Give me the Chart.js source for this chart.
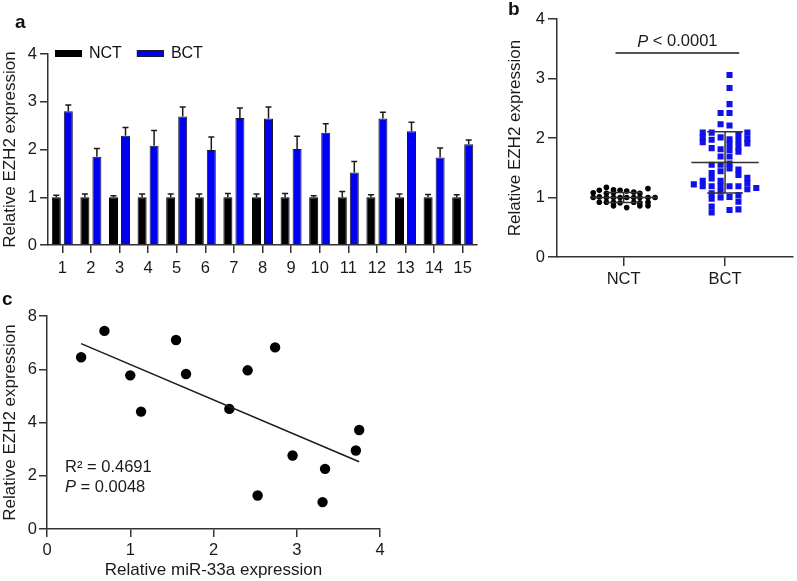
<!DOCTYPE html>
<html><head><meta charset="utf-8">
<script src="https://cdn.jsdelivr.net/npm/chart.js@4.4.1/dist/chart.umd.min.js"></script>
<style>
html,body{margin:0;padding:0;background:#fff;}
#wrap{position:relative;width:797px;height:581px;overflow:hidden;font-family:'Liberation Sans',Arial,sans-serif;}
canvas{position:absolute;}
.lbl{position:absolute;font-weight:bold;font-size:19px;line-height:19px;color:#111;}
</style></head><body>
<div id="wrap">
<canvas id="ca" width="480" height="285" style="left:0;top:0"></canvas>
<canvas id="cb" width="317" height="300" style="left:480px;top:0"></canvas>
<canvas id="cc" width="400" height="296" style="left:0;top:285px"></canvas>
<div class="lbl" style="left:15px;top:12px">a</div>
<div class="lbl" style="left:508px;top:-1px">b</div>
<div class="lbl" style="left:2px;top:289px">c</div>
</div>
<script>
// ---------- Panel a data ----------
const sampleLabels = ['1','2','3','4','5','6','7','8','9','10','11','12','13','14','15'];
const nctMeans = [1,1,1,1,1,1,1,1,1,1,1,1,1,1,1];
const nctErr   = [0.04,0.07,0.03,0.07,0.07,0.07,0.08,0.07,0.08,0.03,0.12,0.05,0.07,0.06,0.05];
const bctMeans = [2.80,1.85,2.29,2.08,2.69,1.99,2.66,2.65,2.01,2.35,1.52,2.65,2.38,1.83,2.11];
const bctErr   = [0.13,0.17,0.17,0.32,0.20,0.27,0.21,0.24,0.27,0.19,0.23,0.13,0.19,0.20,0.09];

// ---------- Panel b data ----------
const groupLabels = ['NCT','BCT'];
const nctValues = [1.17,1.15, 1.12,1.13,1.12,1.11, 1.08,1.07,1.08,1.09,1.07,
  1.00,1.01,1.00,1.00,1.00,1.00,1.00,1.00,1.00,1.00,
  0.92,0.92,0.92,0.91,0.92,0.91,0.92, 0.86,0.83,0.86,0.86];
const nctJitter = [-0.17,0.24, -0.24,-0.10,-0.035,0.03, -0.30,-0.17,-0.10,0.10,0.16,
  -0.30,-0.24,-0.17,-0.10,-0.035,0.03,0.10,0.16,0.24,0.31,
  -0.24,-0.17,-0.10,-0.035,0.10,0.16,0.24, -0.10,0.03,0.16,0.24];
const bctValues = [
  3.06,2.84,2.57,2.42,2.21,1.98,1.90,1.80,1.69,1.57,1.49,1.19,1.01,0.79,
  2.42,2.23,2.01,1.81,1.69,1.55,1.44,1.28,1.19,1.10,1.00,
  2.09,1.97,1.83,1.55,1.41,1.32,1.19,1.07,0.98,0.85,0.75,
  2.09,2.01,1.93,1.28,1.19,
  2.05,1.95,1.85,1.77,1.47,1.38,1.19,1.04,0.93,0.80,
  2.09,1.99,1.91,1.33,1.24,1.14,
  1.22, 1.16];
const bctColumn = [
  0.5,0.5,0.5,0.5,0.5,0.5,0.5,0.5,0.5,0.5,0.5,0.5,0.5,0.5,
  -0.5,-0.5,-0.5,-0.5,-0.5,-0.5,-0.5,-0.5,-0.5,-0.5,-0.5,
  -1.5,-1.5,-1.5,-1.5,-1.5,-1.5,-1.5,-1.5,-1.5,-1.5,-1.5,
  -2.5,-2.5,-2.5,-2.5,-2.5,
  1.5,1.5,1.5,1.5,1.5,1.5,1.5,1.5,1.5,1.5,
  2.5,2.5,2.5,2.5,2.5,2.5,
  -3.5, 3.5];
const nctSummary = [1.00, 0.085];   // mean, SD
const bctSummary = [1.59, 0.515];   // mean, SD
const pLabelB = ['P', ' < 0.0001'];

// ---------- Panel c data ----------
const mirValues = [0.41,0.69,1.00,1.13,1.55,1.67,2.19,2.41,2.53,2.74,2.95,3.31,3.34,3.71,3.75];
const ezhValues = [6.45,7.44,5.77,4.41,7.10,5.82,4.51,5.96,1.26,6.82,2.76,1.01,2.26,2.95,3.72];
const statLinesC = [['R\u00B2', ' = 0.4691', false], ['P', ' = 0.0048', true]];

// ---------- common ----------
const FONT = "'Liberation Sans', Arial, sans-serif";
Chart.defaults.font.family = FONT;
Chart.defaults.font.size = 16.5;
Chart.defaults.color = '#1a1a1a';
const AX = '#333';
function gridOpts(tl){ return {display:true, drawOnChartArea:false, drawTicks:true, tickLength:tl, color:AX, lineWidth:1.5}; }
const borderOpts = {display:true, color:AX, width:1.5};
const titleFont = {size:17, family:FONT};

function drawMixed(ctx, parts, x, y, size, align){
  ctx.font = 'italic ' + size + 'px ' + FONT;
  const w1 = ctx.measureText(parts[0]).width;
  ctx.font = size + 'px ' + FONT;
  const w2 = ctx.measureText(parts[1]).width;
  let x0 = align === 'center' ? x - (w1 + w2)/2 : x;
  ctx.textAlign = 'left'; ctx.textBaseline = 'middle';
  ctx.font = 'italic ' + size + 'px ' + FONT;
  ctx.fillText(parts[0], x0, y);
  ctx.font = size + 'px ' + FONT;
  ctx.fillText(parts[1], x0 + w1, y);
}

// ---------- Panel a ----------
const errorBars = {
  id:'errorBars',
  afterDatasetsDraw(chart, args, opts){
    const ctx = chart.ctx, ys = chart.scales.y;
    ctx.save();
    ctx.strokeStyle = '#1a1a1a'; ctx.lineWidth = 1.5;
    opts.errors.forEach((errs, di) => {
      const meta = chart.getDatasetMeta(di);
      const vals = chart.data.datasets[di].data;
      meta.data.forEach((bar, i) => {
        const top = ys.getPixelForValue(vals[i] + errs[i]);
        ctx.beginPath();
        ctx.moveTo(bar.x, bar.y); ctx.lineTo(bar.x, top);
        ctx.moveTo(bar.x - 3, top); ctx.lineTo(bar.x + 3, top);
        ctx.stroke();
      });
    });
    ctx.restore();
  }
};
// inline horizontal legend placed at the top of the plot area
const boxLegend = {
  id:'boxLegend',
  afterDraw(chart, args, opts){
    const {ctx, chartArea} = chart;
    ctx.save();
    let x = chartArea.left + opts.dx;
    const yc = chartArea.top + opts.dy;
    ctx.font = opts.size + 'px ' + FONT;
    ctx.textAlign = 'left'; ctx.textBaseline = 'middle';
    chart.data.datasets.forEach(ds => {
      ctx.fillStyle = ds.backgroundColor;
      ctx.fillRect(x, yc - opts.boxH/2, opts.boxW, opts.boxH);
      ctx.strokeStyle = ds.borderColor; ctx.lineWidth = 1;
      ctx.strokeRect(x + 0.5, yc - opts.boxH/2 + 0.5, opts.boxW - 1, opts.boxH - 1);
      x += opts.boxW + opts.textGap;
      ctx.fillStyle = '#111';
      ctx.fillText(ds.label, x, yc);
      x += ctx.measureText(ds.label).width + opts.itemGap;
    });
    ctx.restore();
  }
};

new Chart(document.getElementById('ca'), {
  type:'bar',
  data:{
    labels: sampleLabels,
    datasets:[
      {label:'NCT', data:nctMeans, backgroundColor:'#000', borderColor:'#000', borderWidth:1},
      {label:'BCT', data:bctMeans, backgroundColor:'#0000f2', borderColor:'#1a1a2a', borderWidth:1}
    ]
  },
  options:{
    responsive:false, animation:false, devicePixelRatio:1,
    layout:{padding:{top:54, right:3, left:0, bottom:0}},
    datasets:{bar:{categoryPercentage:0.84, barPercentage:0.75}},
    plugins:{
      legend:{display:false},
      tooltip:{enabled:false},
      errorBars:{errors:[nctErr, bctErr]},
      boxLegend:{dx:7, dy:-0.5, boxW:27, boxH:7, textGap:7, itemGap:15, size:16}
    },
    scales:{
      x:{type:'category', grid:Object.assign(gridOpts(8), {offset:false}), border:borderOpts,
        ticks:{padding:6, maxRotation:0, autoSkip:false, font:{size:16.5}},
        afterFit(s){ s.height = 40; }},
      y:{min:0, max:4, grid:gridOpts(8), border:borderOpts,
        ticks:{stepSize:1, padding:3, font:{size:16.5}},
        title:{display:true, text:'Relative EZH2 expression', font:titleFont, padding:0},
        afterFit(s){ s.width = 48; }}
    }
  },
  plugins:[errorBars, boxLegend]
});

// ---------- Panel b ----------
const summaryPlugin = {
  id:'summary',
  afterDatasetsDraw(chart, args, opts){
    const {ctx, scales:{x, y}} = chart;
    ctx.save();
    ctx.strokeStyle = AX; ctx.lineWidth = 1.5;
    opts.groups.forEach(g => {
      const cx = g[0], mean = g[1][0], sd = g[1][1];
      const xc = x.getPixelForValue(cx);
      const xm0 = x.getPixelForValue(cx - opts.meanHalf), xm1 = x.getPixelForValue(cx + opts.meanHalf);
      const xc0 = x.getPixelForValue(cx - opts.capHalf), xc1 = x.getPixelForValue(cx + opts.capHalf);
      const yM = y.getPixelForValue(mean), yT = y.getPixelForValue(mean + sd), yB = y.getPixelForValue(mean - sd);
      ctx.beginPath();
      ctx.moveTo(xm0, yM); ctx.lineTo(xm1, yM);
      ctx.moveTo(xc, yT); ctx.lineTo(xc, yB);
      ctx.moveTo(xc0, yT); ctx.lineTo(xc1, yT);
      ctx.moveTo(xc0, yB); ctx.lineTo(xc1, yB);
      ctx.stroke();
    });
    const s = opts.sig;
    const ys = y.getPixelForValue(s.y);
    ctx.strokeStyle = '#1a1a1a';
    ctx.beginPath();
    ctx.moveTo(x.getPixelForValue(s.x0), ys); ctx.lineTo(x.getPixelForValue(s.x1), ys);
    ctx.stroke();
    ctx.fillStyle = '#1a1a1a';
    drawMixed(ctx, pLabelB, (x.getPixelForValue(s.x0) + x.getPixelForValue(s.x1))/2, ys - 11, 16.5, 'center');
    ctx.restore();
  }
};

new Chart(document.getElementById('cb'), {
  type:'scatter',
  data:{
    datasets:[
      {label:'NCT', data:nctValues.map((v,i)=>({x:1 + nctJitter[i], y:v})),
        pointStyle:'circle', pointRadius:2.8, backgroundColor:'#000', borderColor:'#000', borderWidth:0},
      {label:'BCT', data:bctValues.map((v,i)=>({x:2 + bctColumn[i]*0.088, y:v})),
        pointStyle:'rect', pointRadius:4.3, backgroundColor:'#1010e8', borderColor:'#1010e8', borderWidth:0}
    ]
  },
  options:{
    responsive:false, animation:false, devicePixelRatio:1,
    layout:{padding:{top:19, right:2, left:25, bottom:0}},
    plugins:{
      legend:{display:false}, tooltip:{enabled:false},
      summary:{groups:[[1, nctSummary],[2, bctSummary]], meanHalf:0.332, capHalf:0.176,
        sig:{x0:0.92, x1:2.14, y:3.43}}
    },
    scales:{
      x:{type:'linear', min:0.343, max:2.667, grid:gridOpts(9), border:borderOpts,
        afterBuildTicks(s){ s.ticks = [{value:1},{value:2}]; },
        ticks:{padding:4, font:{size:16.5}, callback:(v)=> groupLabels[Math.round(v)-1] || ''},
        afterFit(s){ s.height = 43; }},
      y:{min:0, max:4, grid:gridOpts(9), border:borderOpts,
        ticks:{stepSize:1, padding:3, font:{size:16.5}},
        title:{display:true, text:'Relative EZH2 expression', font:titleFont, padding:0},
        afterFit(s){ s.width = 52; }}
    }
  },
  plugins:[summaryPlugin]
});

// ---------- Panel c ----------
const n = mirValues.length;
const mx = mirValues.reduce((a,b)=>a+b,0)/n, my = ezhValues.reduce((a,b)=>a+b,0)/n;
let sxy = 0, sxx = 0;
for (let i=0;i<n;i++){ sxy += (mirValues[i]-mx)*(ezhValues[i]-my); sxx += (mirValues[i]-mx)**2; }
const slope = sxy/sxx, icpt = my - slope*mx;
const xMin = Math.min(...mirValues), xMax = Math.max(...mirValues);

const statText = {
  id:'statText',
  afterDatasetsDraw(chart, args, opts){
    const {ctx, chartArea} = chart;
    ctx.save(); ctx.fillStyle = '#1a1a1a';
    statLinesC.forEach((ln, i) => {
      const yy = chartArea.bottom - opts.fromBottom[i];
      const xx = chartArea.left + opts.dx;
      if (ln[2]) { drawMixed(ctx, [ln[0], ln[1]], xx, yy, 16.5, 'left'); }
      else {
        ctx.font = '16.5px ' + FONT; ctx.textAlign='left'; ctx.textBaseline='middle';
        ctx.fillText(ln[0] + ln[1], xx, yy);
      }
    });
    ctx.restore();
  }
};

new Chart(document.getElementById('cc'), {
  type:'scatter',
  data:{
    datasets:[
      {label:'fit', data:[{x:xMin, y:icpt+slope*xMin},{x:xMax, y:icpt+slope*xMax}],
        showLine:true, borderColor:'#1a1a1a', borderWidth:1.5, pointRadius:0, fill:false},
      {label:'samples', data:mirValues.map((v,i)=>({x:v, y:ezhValues[i]})),
        pointStyle:'circle', pointRadius:5.2, backgroundColor:'#000', borderColor:'#000', borderWidth:0}
    ]
  },
  options:{
    responsive:false, animation:false, devicePixelRatio:1,
    layout:{padding:{top:31, right:20, left:0, bottom:0}},
    plugins:{legend:{display:false}, tooltip:{enabled:false},
      statText:{dx:18, fromBottom:[62, 42]}},
    scales:{
      x:{type:'linear', min:0, max:4, grid:gridOpts(8), border:borderOpts,
        ticks:{stepSize:1, padding:4, font:{size:16.5}},
        title:{display:true, text:'Relative miR-33a expression', font:titleFont, padding:0},
        afterFit(s){ s.height = 52; }},
      y:{min:0, max:8, grid:gridOpts(8), border:borderOpts,
        ticks:{stepSize:2, padding:2, font:{size:16.5}},
        title:{display:true, text:'Relative EZH2 expression', font:titleFont, padding:0},
        afterFit(s){ s.width = 47; }}
    }
  },
  plugins:[statText]
});
</script>
</body></html>
